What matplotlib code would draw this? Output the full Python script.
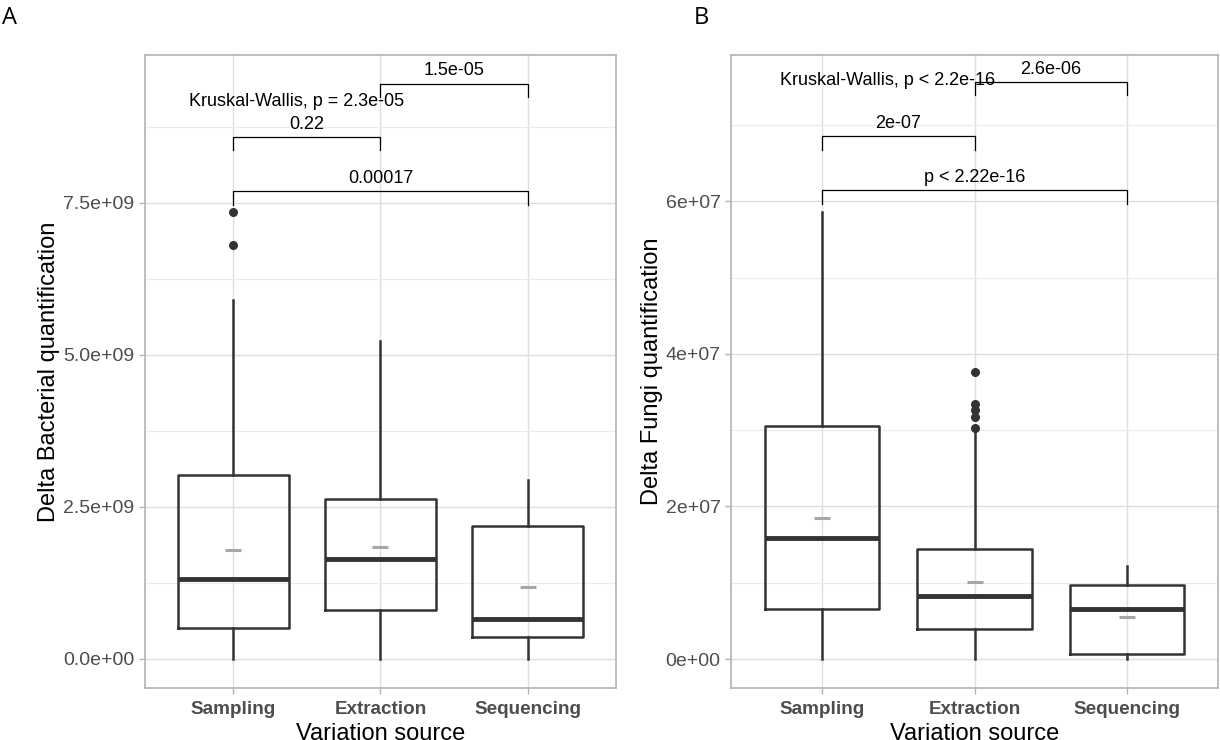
import matplotlib

matplotlib.use('Agg')
import matplotlib.pyplot as plt

plt.rcParams['font.family'] = ['Liberation Sans', 'DejaVu Sans']

CATEGORIES = ["Sampling", "Extraction", "Sequencing"]

# panel A: bacterial
bact_q1 = [0.51e9, 0.80e9, 0.36e9]
bact_med = [1.32e9, 1.64e9, 0.66e9]
bact_q3 = [3.02e9, 2.63e9, 2.19e9]
bact_lo = [0.0, 0.0, 0.0]
bact_hi = [5.90e9, 5.23e9, 2.94e9]
bact_mean = [1.79e9, 1.84e9, 1.18e9]
bact_fliers = [[7.35e9, 6.81e9], [], []]
bact_ticks = [0, 2.5e9, 5.0e9, 7.5e9]
bact_ticklabels = ["0.0e+00", "2.5e+09", "5.0e+09", "7.5e+09"]
bact_minor = [1.25e9, 3.75e9, 6.25e9, 8.75e9]
bact_pairs = [(1, 3), (1, 2), (2, 3)]
bact_pvals = ["0.00017", "0.22", "1.5e-05"]
bact_bar_y = [7.69e9, 8.58e9, 9.46e9]
bact_tip = 0.22e9
bact_kw = "Kruskal-Wallis, p = 2.3e-05"
bact_kw_pos = (0.70, 9.17e9)
bact_ylim = (-0.48e9, 9.93e9)

# panel B: fungi
fungi_q1 = [6.5e6, 4.0e6, 0.6e6]
fungi_med = [1.59e7, 8.2e6, 6.6e6]
fungi_q3 = [3.06e7, 1.44e7, 9.7e6]
fungi_lo = [0.0, 0.0, 0.0]
fungi_hi = [5.86e7, 3.0e7, 1.22e7]
fungi_mean = [1.85e7, 1.01e7, 5.5e6]
fungi_fliers = [[], [3.03e7, 3.17e7, 3.26e7, 3.34e7, 3.76e7], []]
fungi_ticks = [0, 2e7, 4e7, 6e7]
fungi_ticklabels = ["0e+00", "2e+07", "4e+07", "6e+07"]
fungi_minor = [1e7, 3e7, 5e7, 7e7]
fungi_pairs = [(1, 3), (1, 2), (2, 3)]
fungi_pvals = ["p < 2.22e-16", "2e-07", "2.6e-06"]
fungi_bar_y = [6.15e7, 6.86e7, 7.57e7]
fungi_tip = 0.18e7
fungi_kw = "Kruskal-Wallis, p < 2.2e-16"
fungi_kw_pos = (0.72, 7.58e7)
fungi_ylim = (-0.38e7, 7.92e7)

DARK = "#333333"
GRID = "#DEDEDE"
BORDER = "#B3B3B3"


def panel(ax, q1, med, q3, lo, hi, mean, fliers, ticks, ticklabels, minor,
          pairs, pvals, bar_y, tip, kw, kw_pos, ylim, ylabel, ylabel_x):
    stats = []
    for i in range(len(CATEGORIES)):
        stats.append(dict(med=med[i], q1=q1[i], q3=q3[i], whislo=lo[i],
                          whishi=hi[i], mean=mean[i], fliers=fliers[i]))
    pos = list(range(1, len(CATEGORIES) + 1))
    ax.bxp(stats, positions=pos, widths=0.75, showmeans=True, showcaps=False,
           patch_artist=False,
           boxprops=dict(color=DARK, linewidth=1.8),
           whiskerprops=dict(color=DARK, linewidth=1.8),
           medianprops=dict(color=DARK, linewidth=3.5, solid_capstyle='butt'),
           meanprops=dict(marker='_', markeredgecolor='#A6A6A6', markersize=12,
                          markeredgewidth=2.2),
           flierprops=dict(marker='o', markerfacecolor=DARK, markeredgecolor=DARK,
                           markersize=5.5))

    for (a, b), lab, y in zip(pairs, pvals, bar_y):
        ax.plot([a, a, b, b], [y - tip, y, y, y - tip], color='black', linewidth=0.9)
        ax.annotate(lab, xy=((a + b) / 2, y), xytext=(0, 3), textcoords='offset points',
                    ha='center', va='bottom', fontsize=13)
    ax.text(kw_pos[0], kw_pos[1], kw, ha='left', va='center', fontsize=13)

    ax.set_xlim(0.4, 3.6)
    ax.set_ylim(*ylim)
    ax.set_xticks(pos)
    ax.set_xticklabels(CATEGORIES, fontsize=13.6, fontweight='bold', color='#4D4D4D')
    ax.set_yticks(ticks)
    ax.set_yticklabels(ticklabels, fontsize=14, color='#4D4D4D')
    ax.set_yticks(minor, minor=True)
    ax.tick_params(axis='both', which='major', color=BORDER, length=4, width=1)
    ax.tick_params(axis='x', which='major', pad=5)
    ax.tick_params(axis='y', which='minor', length=0)
    ax.grid(True, which='major', color=GRID, linewidth=1.0)
    ax.grid(True, which='minor', axis='y', color='#EBEBEB', linewidth=0.8)
    ax.set_axisbelow(True)
    for s in ax.spines.values():
        s.set_color(BORDER)
        s.set_linewidth(1.2)
    ax.set_xlabel("Variation source", fontsize=17)
    ax.set_ylabel(ylabel, fontsize=17)
    ax.yaxis.set_label_coords(ylabel_x, 0.5)
    ax.xaxis.set_label_coords(0.5, -0.056)


fig = plt.figure(figsize=(12.2, 7.4), dpi=100)
ax1 = fig.add_axes([145 / 1220, 1 - 688 / 740, 471 / 1220, 633 / 740])
ax2 = fig.add_axes([731 / 1220, 1 - 688 / 740, 487 / 1220, 633 / 740])

panel(ax1, bact_q1, bact_med, bact_q3, bact_lo, bact_hi, bact_mean, bact_fliers,
      bact_ticks, bact_ticklabels, bact_minor, bact_pairs, bact_pvals, bact_bar_y,
      bact_tip, bact_kw, bact_kw_pos, bact_ylim, "Delta Bacterial quantification", -0.180)
panel(ax2, fungi_q1, fungi_med, fungi_q3, fungi_lo, fungi_hi, fungi_mean, fungi_fliers,
      fungi_ticks, fungi_ticklabels, fungi_minor, fungi_pairs, fungi_pvals, fungi_bar_y,
      fungi_tip, fungi_kw, fungi_kw_pos, fungi_ylim, "Delta Fungi quantification", -0.140)

fig.text(2 / 1220, 1 - 6 / 740, "A", fontsize=17, family=['Open Sans', 'DejaVu Sans'],
         ha='left', va='top')
fig.text(694 / 1220, 1 - 6 / 740, "B", fontsize=17, family=['Open Sans', 'DejaVu Sans'],
         ha='left', va='top')

fig.savefig('out.png', dpi=100)
